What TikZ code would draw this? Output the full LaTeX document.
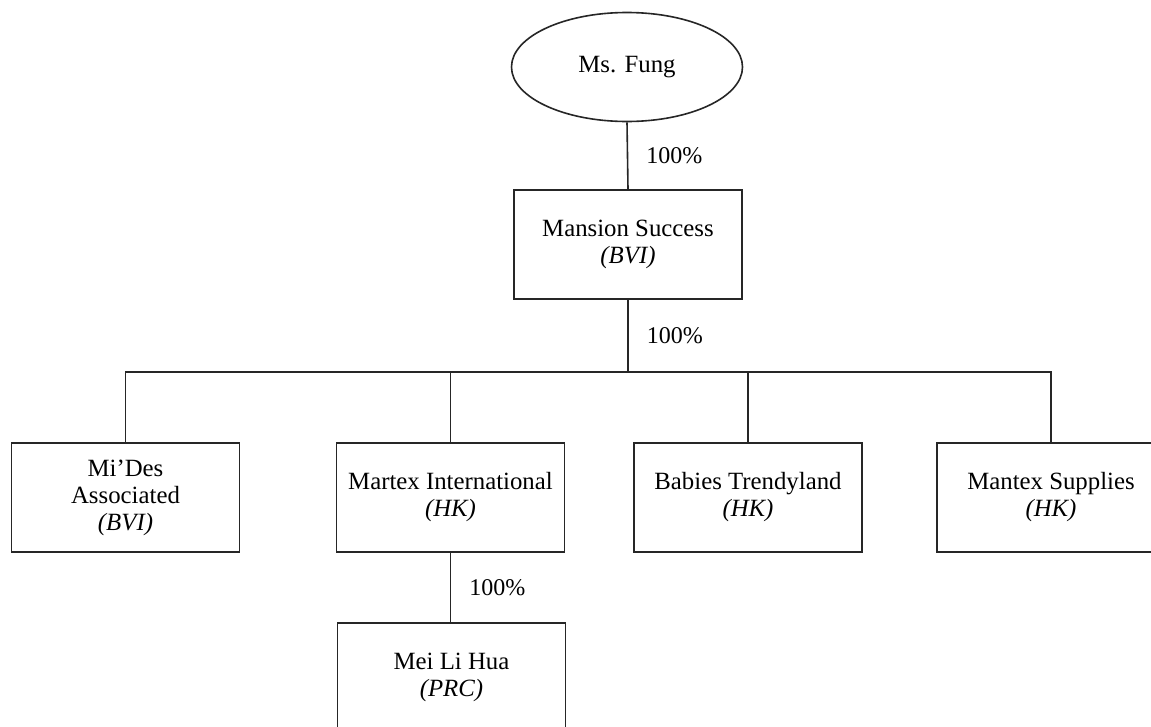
\documentclass[tikz,border=0pt]{standalone}
\usepackage{fontspec}
\setmainfont{Liberation Serif}
\usetikzlibrary{shapes.geometric}
\tikzset{
  orgbox/.style={draw=black!85, line width=1.6pt, minimum width=228pt, minimum height=109pt, inner sep=0pt, align=center, font=\fontsize{24.8}{27}\selectfont},
  owner/.style={draw=black!85, line width=1.6pt, ellipse, minimum width=231pt, minimum height=109pt, inner sep=0pt, font=\fontsize{24.8}{27}\selectfont},
  link/.style={draw=black!85, line width=1.6pt},
  pct/.style={right, inner sep=0pt, xshift=18pt, font=\fontsize{24}{27}\selectfont},
}
\begin{document}
\begin{tikzpicture}[x=1pt,y=-1pt]
\useasboundingbox (0,0) rectangle (1151,726);
\clip (0,0) rectangle (1151,726);
\node[owner] (fung) at (627,67) {Ms. Fung};
\node[orgbox] (mansion) at (628,244.5) {Mansion Success\\\textit{(BVI)}};
\coordinate (bus) at (0,372);
\node[orgbox] (mides) at (125.5,497.5) {Mi’Des\\Associated\\\textit{(BVI)}};
\node[orgbox] (martex) at (450.5,497.5) {Martex International\\\textit{(HK)}};
\node[orgbox] (babies) at (748,497.5) {Babies Trendyland\\\textit{(HK)}};
\node[orgbox] (mantex) at (1051,497.5) {Mantex Supplies\\\textit{(HK)}};
\node[orgbox] (mei) at (451.5,677.5) {Mei Li Hua\\\textit{(PRC)}};
\draw[link] (fung.south) -- node[pct] {100\%} (mansion.north);
\draw[link] (mansion.south) -- node[pct] {100\%} (mansion.south |- bus);
\draw[link] (mides.north) -- (mides.north |- bus) -- (mantex.north |- bus) -- (mantex.north);
\draw[link] (martex.north) -- (martex.north |- bus);
\draw[link] (babies.north) -- (babies.north |- bus);
\draw[link] (martex.south) -- node[pct] {100\%} (martex.south |- mei.north);
\end{tikzpicture}
\end{document}
